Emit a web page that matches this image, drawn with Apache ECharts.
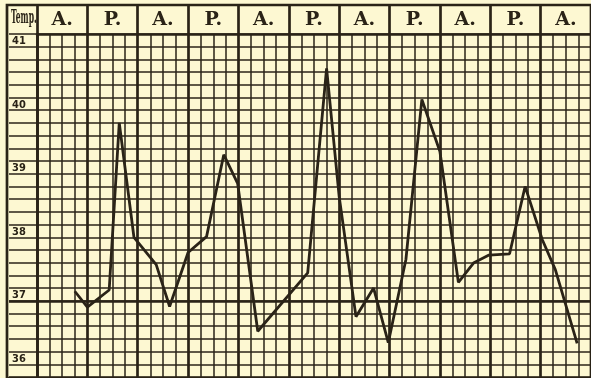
<!DOCTYPE html>
<html>
<head>
    <meta charset="utf-8">
    <title>Temperature chart</title>
    <script src="https://cdn.jsdelivr.net/npm/echarts@6/dist/echarts.min.js"></script>
    <style>
        html, body { margin: 0; padding: 0; background: #fdf8d2; }
    </style>
</head>
<body>
<div id="main" style="width: 591px;height:378px;"></div>
<script type="text/javascript">
    // half-day columns along the top
    var columns = ['A.', 'P.', 'A.', 'P.', 'A.', 'P.', 'A.', 'P.', 'A.', 'P.', 'A.'];
    // time of each reading in hours from the start, one column = 12 h
    var hours = [9, 12, 17.2, 19.6, 23.1, 28.4, 31.6, 36, 40.4, 44.5, 47.8, 52.6, 64.5, 69, 72,
        76, 80.2, 83.7, 87.9, 91.7, 96, 100.4, 104.1, 107.7, 112.6, 116.3, 120.4, 123.5, 128.7];
    var temps = [37.15, 36.9, 37.17, 39.8, 38.0, 37.57, 36.91, 37.76, 38.01, 39.3, 38.85, 36.52, 37.44, 40.66, 38.64,
        36.75, 37.2, 36.34, 37.65, 40.17, 39.35, 37.29, 37.6, 37.72, 37.74, 38.8, 37.96, 37.49, 36.33];
    var yLabels = [36, 37, 38, 39, 40, 41];
    var headerLabel = 'Temp.';

    var ink = '#2a2317';
    var thin = 1.5;
    var thick = 2.7;

    var points = [];
    for (var i = 0; i < hours.length; i++) {
        points.push([hours[i], temps[i]]);
    }

    function tempLabel(v) {
        for (var k = 0; k < yLabels.length; k++) {
            if (Math.abs(v - yLabels[k]) < 1e-6) return String(yLabels[k]);
        }
        return '';
    }

    var myChart = echarts.init(document.getElementById('main'));

    var option = {
        backgroundColor: '#fdf8d2',
        animation: false,
        graphic: [{
            type: 'text',
            left: 11,
            top: 9,
            scaleX: 0.4,
            style: {
                text: headerLabel,
                font: 'bold 19px "DejaVu Serif", serif',
                fill: ink
            }
        }],
        grid: [
            // main plot
            {left: 37, top: 34, right: -1, bottom: 1},
            // label column
            {left: 9, top: 34, width: 28, bottom: 1},
            // header row
            {left: 37, top: 6, right: -1, height: 28},
            // outer frame
            {left: 7, top: 5, right: -4, bottom: -4, show: true, borderColor: ink, borderWidth: thick, backgroundColor: 'transparent'}
        ],
        xAxis: [
            {
                gridIndex: 0, type: 'value', min: 0, max: 132, interval: 12,
                axisLine: {show: false}, axisTick: {show: false}, axisLabel: {show: false},
                splitLine: {show: true, lineStyle: {color: ink, width: thick}},
                minorTick: {show: false, splitNumber: 4},
                minorSplitLine: {show: true, lineStyle: {color: ink, width: thin}}
            },
            {
                gridIndex: 1, type: 'value', min: 0, max: 1, show: false
            },
            {
                gridIndex: 2, type: 'category', data: columns, position: 'bottom',
                axisLine: {show: true, lineStyle: {color: ink, width: thick}},
                axisTick: {show: false},
                splitLine: {show: true, interval: 0, lineStyle: {color: ink, width: thick}},
                axisLabel: {
                    inside: true, margin: 14, verticalAlign: 'middle', interval: 0,
                    color: ink, fontFamily: '"DejaVu Serif", serif', fontWeight: 'bold', fontSize: 19
                }
            }
        ],
        yAxis: [
            {
                gridIndex: 0, type: 'value', min: 35.8, max: 41.2, interval: 0.2,
                axisLine: {show: true, lineStyle: {color: ink, width: thick}},
                axisTick: {show: false}, axisLabel: {show: false},
                splitLine: {show: true, lineStyle: {color: ink, width: thin}}
            },
            {
                gridIndex: 1, type: 'value', min: 35.8, max: 41.2, interval: 0.2,
                axisLine: {show: false}, axisTick: {show: false},
                axisLabel: {
                    inside: true, margin: 3, align: 'left', verticalAlign: 'bottom',
                    formatter: tempLabel, color: ink,
                    fontFamily: '"DejaVu Sans Condensed", "Liberation Sans Narrow", sans-serif',
                    fontWeight: 'bold', fontSize: 11
                },
                splitLine: {show: true, lineStyle: {color: ink, width: thin}}
            },
            {
                gridIndex: 2, type: 'value', min: 0, max: 1, show: false
            }
        ],
        series: [
            {
                name: 'Temp',
                type: 'line',
                xAxisIndex: 0,
                yAxisIndex: 0,
                data: points,
                symbol: 'none',
                smooth: false,
                lineStyle: {color: ink, width: 2.8},
                markLine: {
                    silent: true, symbol: 'none', label: {show: false},
                    lineStyle: {color: ink, width: 2.6, type: 'solid'},
                    data: [{yAxis: 37}]
                },
                z: 5
            },
            {
                name: 'normal',
                type: 'line',
                xAxisIndex: 1,
                yAxisIndex: 1,
                data: [],
                markLine: {
                    silent: true, symbol: 'none', label: {show: false},
                    lineStyle: {color: ink, width: 2.6, type: 'solid'},
                    data: [{yAxis: 37}]
                }
            }
        ]
    };

    myChart.setOption(option);
</script>
</body>
</html>
